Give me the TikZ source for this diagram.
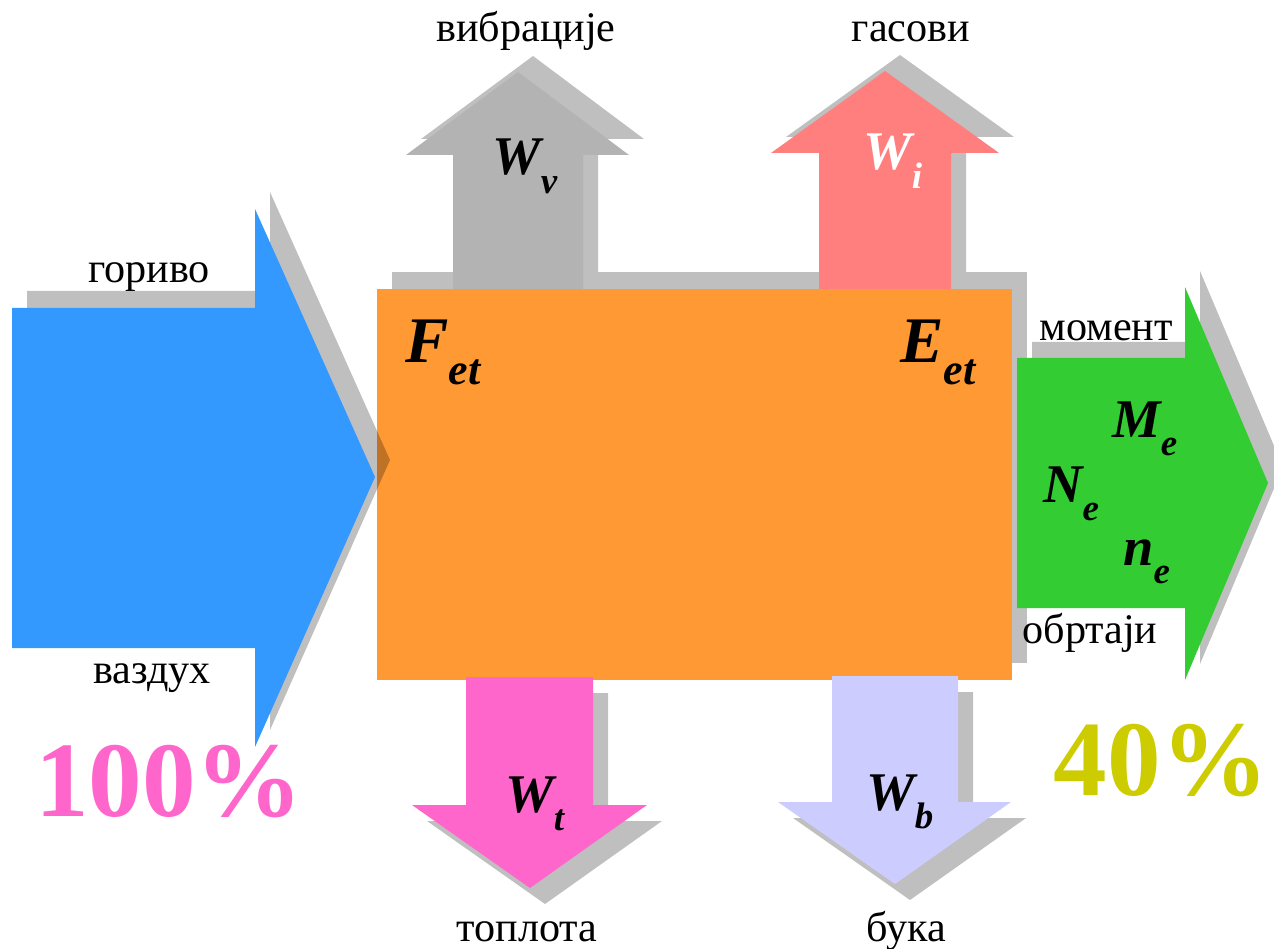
\documentclass[tikz,border=0pt]{standalone}
\usepackage{fontspec}
\setmainfont{Liberation Serif}
\definecolor{cblue}{HTML}{3399FF}
\definecolor{corange}{HTML}{FF9933}
\definecolor{cgray}{HTML}{B3B3B3}
\definecolor{cpink}{HTML}{FF7F7F}
\definecolor{cmag}{HTML}{FF66CC}
\definecolor{clav}{HTML}{CCCCFF}
\definecolor{cgreen}{HTML}{33CC33}
\definecolor{cshadow}{HTML}{BFBFBF}
\definecolor{colive}{HTML}{CCCC00}
\newcommand\bsub[4]{{\fontsize{#3}{#3}\selectfont\bfseries\itshape #1\raisebox{-0.75ex}{\fontsize{#4}{#4}\selectfont #2}}}
\begin{document}
\begin{tikzpicture}[x=0.02cm,y=-0.02cm,
  shadowfill/.style={fill=cshadow},
  lbl/.style={inner sep=0pt,anchor=base,font=\fontsize{24}{28}\selectfont},
  sym/.style={inner sep=0pt,anchor=base west},
  big/.style={inner sep=0pt,anchor=base,font=\fontsize{61}{70}\selectfont\bfseries}]
\useasboundingbox (0,0) rectangle (1274,949);
% shadows
\fill[shadowfill] (392,272) rectangle (1027,663);
\begin{scope}[shift={(15,-16)}]
\fill[shadowfill] (453,289) -- (453,155) -- (406,155) -- (518,72) -- (629,155) -- (583,155) -- (583,289) -- cycle;
\fill[shadowfill] (819,289) -- (819,153) -- (771,153) -- (885,71) -- (999,153) -- (951,153) -- (951,289) -- cycle;
\fill[shadowfill] (1017,358) -- (1185,358) -- (1185,287) -- (1268,483) -- (1185,680) -- (1185,608) -- (1017,608) -- cycle;
\end{scope}
\begin{scope}[shift={(15,16)}]
\fill[shadowfill] (466,677) -- (593,677) -- (593,805) -- (647,805) -- (530,888) -- (412,805) -- (466,805) -- cycle;
\fill[shadowfill] (832,676) -- (958,676) -- (958,802) -- (1011,802) -- (895,884) -- (778,802) -- (832,802) -- cycle;
\end{scope}
% box
\fill[corange] (377,289) rectangle (1012,680);
% blue arrow shadow (semi-transparent) and arrow
\fill[black,opacity=0.25,shift={(15,-17)}] (12,308) -- (255,308) -- (255,209) -- (375,477) -- (255,747) -- (255,648) -- (12,648) -- cycle;
\fill[cblue] (12,308) -- (255,308) -- (255,209) -- (375,477) -- (255,747) -- (255,648) -- (12,648) -- cycle;
% other arrows
\fill[cgray] (453,289) -- (453,155) -- (406,155) -- (518,72) -- (629,155) -- (583,155) -- (583,289) -- cycle;
\fill[cpink] (819,289) -- (819,153) -- (771,153) -- (885,71) -- (999,153) -- (951,153) -- (951,289) -- cycle;
\fill[cmag] (466,677) -- (593,677) -- (593,805) -- (647,805) -- (530,888) -- (412,805) -- (466,805) -- cycle;
\fill[clav] (832,676) -- (958,676) -- (958,802) -- (1011,802) -- (895,884) -- (778,802) -- (832,802) -- cycle;
\fill[cgreen] (1017,358) -- (1185,358) -- (1185,287) -- (1268,483) -- (1185,680) -- (1185,608) -- (1017,608) -- cycle;
% texts
\node[lbl] (vib) at (526,42) {вибрације};
\node[lbl] (gas) at (911,42) {гасови};
\node[lbl] (gor) at (149,283) {гориво};
\node[lbl] (vaz) at (152,683) {ваздух};
\node[lbl] (mom) at (1106,340) {момент};
\node[lbl] (obr) at (1090,643) {обртаји};
\node[lbl] (top) at (527,941) {топлота};
\node[lbl] (buk) at (906,941) {бука};
\node[big,text=cmag] (p100) at (169,816) {100\%};
\node[big,text=colive] (p40) at (1161,795) {40\%};
\node[sym] (wv) at (492,175) {\bsub{W}{v}{31}{21}};
\node[sym,text=white] (wi) at (863,170) {\bsub{W}{i}{31}{21}};
\node[sym] (wt) at (505,812) {\bsub{W}{t}{31}{21}};
\node[sym] (wb) at (866,810) {\bsub{W}{b}{31}{21}};
\node[sym] (fet) at (405,362) {\bsub{F}{et}{37}{25}};
\node[sym] (eet) at (900,362) {\bsub{E}{et}{37}{25}};
\node[sym] (me) at (1112,437) {\bsub{M}{e}{31}{21}};
\node[sym] (ne) at (1043,502) {\bsub{N}{e}{31}{21}};
\node[sym] (nn) at (1123,565) {\bsub{n}{e}{31}{21}};
\end{tikzpicture}
\end{document}
